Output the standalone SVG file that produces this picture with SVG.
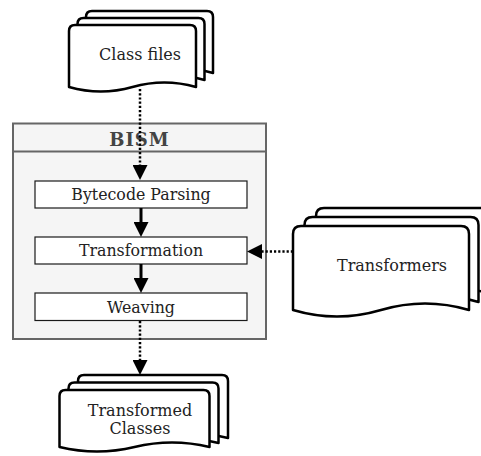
<svg xmlns="http://www.w3.org/2000/svg" width="481" height="456" viewBox="0 0 481 456">
  <style>
    .page { fill: #ffffff; stroke: #000000; stroke-width: 2.5; stroke-linejoin: round; }
    .box { fill: #ffffff; stroke: #1a1a1a; stroke-width: 1.2; }
    .frame { fill: #f5f5f5; stroke: #666666; stroke-width: 2; }
    .label { font-family: "DejaVu Serif", "Liberation Serif", serif; fill: #222222; text-anchor: middle; }
    .doc { font-size: 16px; }
    .step { font-size: 15.8px; }
    .title { font-size: 18px; font-weight: bold; fill: #444444; }
    .dotted { fill: none; stroke: #000000; stroke-width: 2.5; stroke-dasharray: 2.2 2; }
    .solid { fill: none; stroke: #000000; stroke-width: 3; }
  </style>
  <defs>
    <marker id="arrow" viewBox="0 0 15 15" refX="0" refY="7.5" markerWidth="15" markerHeight="15" markerUnits="userSpaceOnUse" orient="auto">
      <path d="M0,0 L15,7.5 L0,15 Z" fill="#000000"/>
    </marker>
  </defs>

  <!-- Class files: stack of three pages -->
  <g id="class-files">
    <path class="page" d="M86,73 V17 Q86,11 92,11 H207 Q213,11 213,17 V73 Q181.25,64 149.5,73 Q117.75,82 86,73 Z"/>
    <path class="page" d="M77.5,80 V24 Q77.5,18 83.5,18 H198.5 Q204.5,18 204.5,24 V80 Q172.75,71 141,80 Q109.25,89 77.5,80 Z"/>
    <path class="page" d="M69,87 V31 Q69,25 75,25 H190 Q196,25 196,31 V87 Q164.25,78 132.5,87 Q100.75,96 69,87 Z"/>
    <text class="label doc" x="140" y="60">Class files</text>
  </g>

  <!-- BISM container with header band -->
  <g id="bism">
    <rect class="frame" x="13" y="123.5" width="253" height="215.5"/>
    <line x1="13" y1="151.5" x2="266" y2="151.5" stroke="#666666" stroke-width="2"/>
    <text class="label title" x="139.5" y="146" letter-spacing="1">BISM</text>
  </g>

  <g id="bytecode-parsing">
    <rect class="box" x="35" y="181" width="212" height="27"/>
    <text class="label step" x="141" y="200">Bytecode Parsing</text>
  </g>

  <g id="transformation">
    <rect class="box" x="35" y="237" width="212" height="27"/>
    <text class="label step" x="141" y="256">Transformation</text>
  </g>

  <g id="weaving">
    <rect class="box" x="35" y="293" width="212" height="27.5"/>
    <text class="label step" x="141" y="312.5">Weaving</text>
  </g>

  <!-- Transformers: stack of three pages, partly past the right edge -->
  <g id="transformers">
    <path class="page" d="M316,294 V216 Q316,208 324,208 H484 Q492,208 492,216 V294 Q448,281 404,294 Q360,307 316,294 Z"/>
    <path class="page" d="M304.5,302 V225 Q304.5,217 312.5,217 H470.5 Q478.5,217 478.5,225 V302 Q435,289 391.5,302 Q348,315 304.5,302 Z"/>
    <path class="page" d="M293,310 V234 Q293,226 301,226 H461 Q469,226 469,234 V310 Q425,297 381,310 Q337,323 293,310 Z"/>
    <text class="label doc" x="392" y="271">Transformers</text>
  </g>

  <!-- Transformed Classes: stack of three pages, cut by the bottom edge -->
  <g id="transformed-classes">
    <path class="page" d="M78,438 V381 Q78,375 84,375 H222 Q228,375 228,381 V438 Q190.5,429 153,438 Q115.5,447 78,438 Z"/>
    <path class="page" d="M68.5,443 V388.5 Q68.5,382.5 74.5,382.5 H212.5 Q218.5,382.5 218.5,388.5 V443 Q181,434 143.5,443 Q106,452 68.5,443 Z"/>
    <path class="page" d="M59.5,447 V396 Q59.5,390 65.5,390 H203.5 Q209.5,390 209.5,396 V447 Q172,438 134.5,447 Q97,456 59.5,447 Z"/>
    <text class="label doc" x="140" y="416">Transformed</text>
    <text class="label doc" x="140" y="434">Classes</text>
  </g>

  <!-- Connectors -->
  <g id="connectors">
    <path class="dotted" d="M140,89 V165" marker-end="url(#arrow)"/>
    <path class="solid" d="M141,208 V222" marker-end="url(#arrow)"/>
    <path class="solid" d="M141,264 V278" marker-end="url(#arrow)"/>
    <path class="dotted" d="M140,321 V360" marker-end="url(#arrow)"/>
    <path class="dotted" d="M293,251.5 H262" marker-end="url(#arrow)"/>
  </g>
</svg>
